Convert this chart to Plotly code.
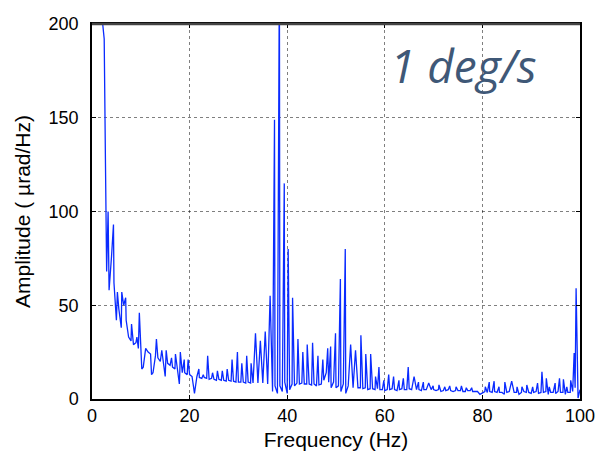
import plotly.graph_objects as go

# Broadband floor of the spectrum, sampled every 0.5 Hz from 0.5 Hz to 100 Hz
floor_start_hz = 0.5
floor_step_hz = 0.5
floor_amp = [
    2000, 1200, 500, 205, 192, 68, 58, 76, 62, 42, 48, 38, 50, 42, 33, 31, 29, 30, 27, 30,
    17, 27, 25, 24, 14, 23, 22, 20, 21, 12, 19, 18, 17, 16, 15, 15, 14, 14, 13, 13,
    12, 3, 12, 11.5, 11, 11.5, 11, 10.5, 11, 10.5, 10, 10.5, 10, 10, 9.5, 10, 9.5, 9.5, 9, 9,
    9, 9, 8.5, 9, 8.5, 8.5, 9, 8.5, 8, 8.5, 8, 8, 8, 4, 7, 3, 7, 4, 9, 3,
    5, 8, 7, 8.5, 8, 8.5, 8, 8, 8, 7.5, 8, 7, 7.5, 8, 10, 14, 9, 6, 9, 6,
    7, 4, 8, 3, 7, 6, 6, 6.5, 6, 6, 5.5, 6, 5, 5.5, 5.5, 5, 5.5, 5, 5, 4.5,
    5, 5, 5.5, 5, 4.5, 5, 5.5, 5, 5, 5.5, 5, 4.5, 5, 5, 4.5, 5, 5, 4.5, 5, 5,
    4.5, 5, 4, 4.5, 4.5, 5, 4.5, 4, 4.5, 4.5, 4.5, 4, 4, 4.5, 4.5, 4, 4, 4, 2.5, 3.5,
    4, 3.5, 4, 3.5, 4, 3.5, 3.5, 3.5, 2.5, 3.5, 4, 3.5, 3.5, 3.5, 2.5, 3.5, 4, 3.5, 3.5, 3,
    3.5, 4, 3, 3.5, 3.5, 4, 2.5, 3.5, 3.5, 3, 4, 3.5, 3.5, 2.5, 3.5, 3.5, 4, 6, 1, 5,
]

# Narrowband lines (frequency in Hz, amplitude in µrad/Hz)
line_hz = [
    2.75, 3.3, 4.4, 5.2, 6.1, 6.9, 8.1, 9.2, 9.7, 10.2, 12.2, 13.2, 14.3, 15.2, 16.3,
    17.1, 17.9, 18.1, 18.9, 19.7, 21.9, 22.8, 23.7, 24.7, 25.7, 26.7, 27.7, 28.7, 29.8,
    30.7, 31.7, 32.6, 33.5, 34.5, 35.5, 36.5, 37.4, 38.4, 39.4, 40.2, 41.1, 42.2, 43.2,
    44.1, 45.2, 46.3, 47.3, 48.3, 48.9, 49.9, 50.9, 51.9, 53.0, 54.0, 55.1, 56.1, 57.1,
    58.1, 58.8, 59.8, 60.8, 61.8, 62.9, 63.8, 64.8, 66.0, 66.9, 67.9, 69.0, 69.9, 71.1,
    72.3, 73.3, 74.6, 75.7, 76.7, 77.8, 80.6, 81.4, 82.4, 83.4, 84.6, 86.0, 87.1, 88.1,
    89.1, 90.3, 91.3, 92.2, 93.1, 93.7, 94.9, 95.8, 96.6, 97.3, 98.1, 98.8, 99.2, 99.6,
]
line_amp = [
    128, 100, 93, 57, 57, 54, 40, 33, 46, 16, 13, 32, 26, 26, 22,
    24, 8, 25, 21, 21, 16, 13, 23, 14, 15, 15, 16, 21, 25,
    19, 23, 19, 35, 31, 36, 55, 149, 230, 115, 80, 54, 32, 25,
    29, 30, 23, 21, 27, 28, 35, 64, 80, 29, 26, 34, 24, 24,
    12, 17, 10, 13, 12, 10, 11, 17, 12, 9, 9, 8.5, 7, 7.5,
    6.5, 7, 6.5, 7, 6, 6, 6.5, 9, 9.5, 6.5, 9, 9.5, 6.5, 6.5,
    7.5, 6.5, 8.5, 14.5, 11, 6.5, 8.5, 11, 10.5, 6.5, 10, 24.5, 59, 0.5,
]

x_ticks = [0, 20, 40, 60, 80, 100]
y_ticks = [0, 50, 100, 150, 200]

# Merge the floor and the narrowband lines into one frequency-ordered trace
points = {round(floor_start_hz + i * floor_step_hz, 3): a for i, a in enumerate(floor_amp)}
points.update({round(f, 3): a for f, a in zip(line_hz, line_amp)})
freq = sorted(points)
amp = [points[f] for f in freq]

fig = go.Figure(
    go.Scatter(
        x=freq, y=amp, mode="lines",
        line=dict(color="#0a2bff", width=1.3),
        hoverinfo="x+y",
    )
)

tick_font = dict(family="Liberation Sans, Arial, sans-serif", size=18, color="black")
title_font = dict(family="Liberation Sans, Arial, sans-serif", size=21, color="black")
common = dict(
    showline=True, linecolor="black", linewidth=1.5,
    mirror="ticks", ticks="inside", ticklen=4, tickwidth=1, tickcolor="black",
    showgrid=True, gridcolor="rgba(0,0,0,0.5)", gridwidth=1, griddash="dot",
    zeroline=False, tickfont=tick_font, automargin=False,
)

fig.update_xaxes(
    range=[0, 100], tickvals=x_ticks, ticktext=[str(v) for v in x_ticks],
    title=dict(text="Frequency (Hz)", font=title_font, standoff=7),
    ticklabelstandoff=0, **common,
)
fig.update_yaxes(
    range=[0, 200], tickvals=y_ticks, ticktext=[str(v) for v in y_ticks],
    title=dict(text="Amplitude ( µrad/Hz)", font=title_font, standoff=12),
    ticklabelstandoff=8, **common,
)

# heavier top edge of the frame
fig.add_shape(
    type="line", xref="paper", yref="paper", x0=0, x1=1, y0=1, y1=1,
    line=dict(color="#444444", width=2.5),
)

fig.add_annotation(
    text="1 deg/s", xref="paper", yref="paper", x=0.761, y=0.89,
    xanchor="center", yanchor="middle", showarrow=False,
    font=dict(family="Open Sans, sans-serif", size=46, color="#3f5877", style="italic"),
)

fig.update_layout(
    width=598, height=452,
    margin=dict(l=92, r=18, t=24, b=53, autoexpand=False),
    paper_bgcolor="white", plot_bgcolor="white",
    showlegend=False,
)

fig.write_html("out.html")
